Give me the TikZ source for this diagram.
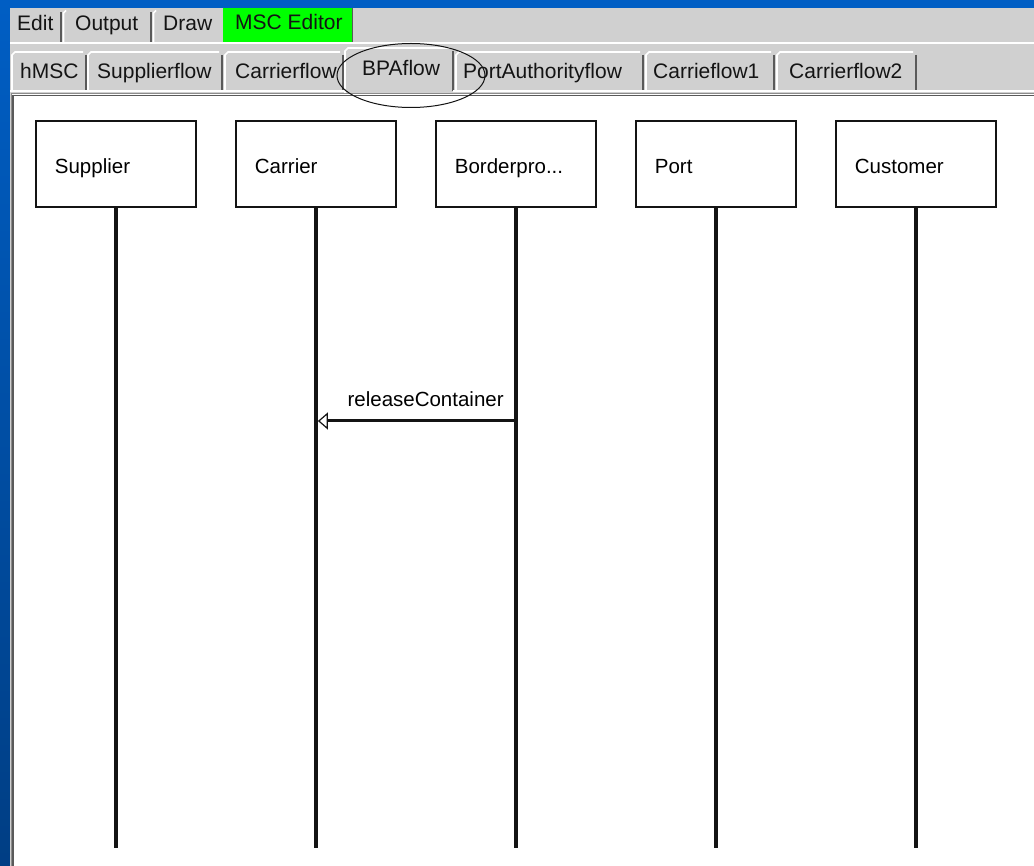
\documentclass[tikz,border=0pt]{standalone}
\usepackage{fontspec}
\setmainfont{Liberation Sans}
\usetikzlibrary{arrows.meta,calc,shapes.geometric}

\definecolor{deskblue}{RGB}{0,94,196}
\definecolor{deskbluedark}{RGB}{0,62,132}
\definecolor{panelgray}{RGB}{208,208,208}
\definecolor{edgedark}{RGB}{90,90,90}
\definecolor{edgemid}{RGB}{140,140,140}
\definecolor{editgreen}{RGB}{0,255,0}
\definecolor{inkblack}{RGB}{20,20,20}

\begin{document}
\begin{tikzpicture}[x=1pt,y=-1pt,
  uifont/.style={font=\fontsize{21}{24}\selectfont},
  tablabel/.style={uifont, text=inkblack, inner sep=0pt, anchor=base west},
  tabhi/.style={white, line width=1.6pt},
  tablo/.style={edgedark, line width=1.6pt},
  lifebox/.style={draw=inkblack, line width=1.8pt, fill=white,
    minimum width=160pt, minimum height=86pt, inner xsep=19pt,
    text width=122pt, text height=20pt, text depth=0pt,
    align=left, anchor=north west,
    font=\fontsize{20.5}{24}\selectfont},
  lifeline/.style={inkblack, line width=3.2pt},
  msgline/.style={inkblack, line width=3pt,
    -{Triangle[open, length=10pt, width=17pt, line width=1.2pt]}},
  msglabel/.style={font=\fontsize{20.5}{24}\selectfont, inner sep=0pt}
]
\useasboundingbox (0,0) rectangle (1034,866);

% desktop and window panel
\fill[deskblue] (0,0) rectangle (1034,866);
\shade[top color=deskblue, bottom color=deskbluedark] (0,0) rectangle (10,866);
\fill[panelgray] (10,8) rectangle (1034,866);

% ---- menu tab row
\fill[editgreen] (223,8) rectangle (352,42);
\draw[tablo] (352.5,8) -- (352.5,42);
\foreach \sx in {61,151} {
  \draw[tablo] (\sx,12) -- (\sx,42);
  \draw[tabhi] (\sx+2.5,42) -- (\sx+2.5,13) -- (\sx+5,10.5);
}
\node[tablabel] (tEdit)   at (17,31)  {Edit};
\node[tablabel] (tOutput) at (75,31)  {Output};
\node[tablabel] (tDraw)   at (163,31) {Draw};
\node[tablabel] (tMsc)    at (235,30) {MSC Editor};
\draw[white, line width=2pt] (10,43.5) -- (1034,43.5);

% ---- diagram tab row
\foreach \l/\r in {12/86, 88/222, 225/343, 456/643, 646/774, 777/916} {
  \draw[tabhi] (\l,90) -- (\l,55) -- (\l+3,52) -- (\r-3,52);
  \draw[tablo] (\r,55) -- (\r,90);
}
% selected tab, raised
\fill[panelgray] (345,47) rectangle (453,93);
\draw[tabhi] (345,93) -- (345,51) -- (348,48) -- (450,48);
\draw[tablo] (453,51) -- (453,91);
\node[tablabel] (tH)   at (20,79)  {hMSC};
\node[tablabel] (tSup) at (97,79)  {Supplierflow};
\node[tablabel] (tCar) at (235,79) {Carrierflow};
\node[tablabel] (tBpa) at (362,76) {BPAflow};
\node[tablabel] (tPa)  at (463,79) {PortAuthorityflow};
\node[tablabel] (tC1)  at (653,79) {Carrieflow1};
\node[tablabel] (tC2)  at (789,79) {Carrierflow2};
\draw[white, line width=1.6pt] (10,91) -- (345,91);
\draw[white, line width=1.6pt] (453,91) -- (1034,91);

% ---- sunken drawing canvas
\fill[white] (12,94) rectangle (1034,866);
\draw[edgemid, line width=1.5pt] (11.5,866) -- (11.5,93.5) -- (1034,93.5);
\draw[edgedark, line width=1.5pt] (13,866) -- (13,95.5) -- (1034,95.5);

% highlight ring around the active tab
\node[draw=inkblack, line width=1pt, ellipse, minimum width=148pt,
      minimum height=64pt, inner sep=0pt] (ring) at (411,75.5) {};

% ---- instances
\node[lifebox] (sup) at (35,120)  {Supplier};
\node[lifebox] (car) at (235,120) {Carrier};
\node[lifebox] (bp)  at (435,120) {Borderpro...};
\node[lifebox] (prt) at (635,120) {Port};
\node[lifebox] (cus) at (835,120) {Customer};

\foreach \n in {sup,car,bp,prt,cus} {
  \coordinate (\n end) at (\n.south |- 0,848);
  \draw[lifeline] (\n.south) -- (\n end);
}

% ---- message
\coordinate (m1from) at (bp.south |- 0,421);
\coordinate (m1to)   at (car.south |- 0,421);
\draw[msgline, shorten >=2pt] (m1from) -- (m1to);
\node[msglabel, anchor=base east] (m1lab) at ($(m1from)+(-12,-14)$) {releaseContainer};
\end{tikzpicture}
\end{document}
